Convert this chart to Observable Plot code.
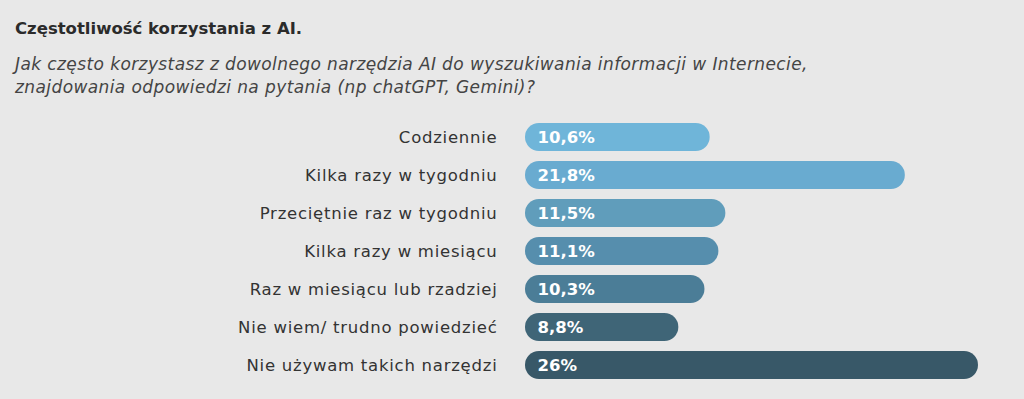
<!DOCTYPE html>
<html>
<head>
<meta charset="utf-8">
<script src="https://cdn.jsdelivr.net/npm/d3@7"></script>
<script src="https://cdn.jsdelivr.net/npm/@observablehq/plot@0.6"></script>
<style>
  html, body { margin: 0; padding: 0; background: #e8e8e8; }
  body { width: 1024px; height: 399px; overflow: hidden; font-family: "DejaVu Sans", sans-serif; }
  #title { position: absolute; left: 15px; top: 19px; font-size: 16.5px; font-weight: 700; color: #2b2b2b; }
  #subtitle { position: absolute; left: 15px; top: 53px; font-size: 17px; font-style: italic; color: #444; line-height: 23px; letter-spacing: 0.4px; }
  #chart { position: absolute; left: 0; top: 105px; }
  #chart svg g[aria-label="y-axis tick label"] text { letter-spacing: 0.75px; }
</style>
</head>
<body>
<div id="title">Częstotliwość korzystania z AI.</div>
<div id="subtitle">Jak często korzystasz z dowolnego narzędzia AI do wyszukiwania informacji w Internecie,<br>znajdowania odpowiedzi na pytania (np chatGPT, Gemini)?</div>
<div id="chart"></div>
<script>
const categories = [
  "Codziennie",
  "Kilka razy w tygodniu",
  "Przeciętnie raz w tygodniu",
  "Kilka razy w miesiącu",
  "Raz w miesiącu lub rzadziej",
  "Nie wiem/ trudno powiedzieć",
  "Nie używam takich narzędzi"
];
const values = [10.6, 21.8, 11.5, 11.1, 10.3, 8.8, 26];
const barColors = ["#6fb5d9", "#69abd0", "#609dbb", "#568ead", "#4b7d97", "#3f6577", "#385868"];

const data = categories.map((c, i) => ({
  category: c,
  value: values[i],
  label: String(values[i]).replace(".", ",") + "%",
  color: barColors[i]
}));

const chart = Plot.plot({
  width: 1024,
  height: 290,
  marginLeft: 525,
  marginRight: 46,
  marginTop: 7,
  marginBottom: 5,
  style: { background: "transparent", fontFamily: "'DejaVu Sans', sans-serif" },
  x: { domain: [0, 26], axis: null },
  y: { domain: categories, padding: 0.27, label: null },
  marks: [
    Plot.barX(data, { x: "value", y: "category", fill: "color", rx: 14 }),
    Plot.text(data, { x: 0, y: "category", text: "label", textAnchor: "start", dx: 12, fill: "white", fontWeight: 700, fontSize: 16.5 }),
    Plot.axisY({ tickSize: 0, tickPadding: 28, fontSize: 16.5, color: "#333", label: null })
  ]
});
document.getElementById("chart").appendChild(chart);
</script>
</body>
</html>
